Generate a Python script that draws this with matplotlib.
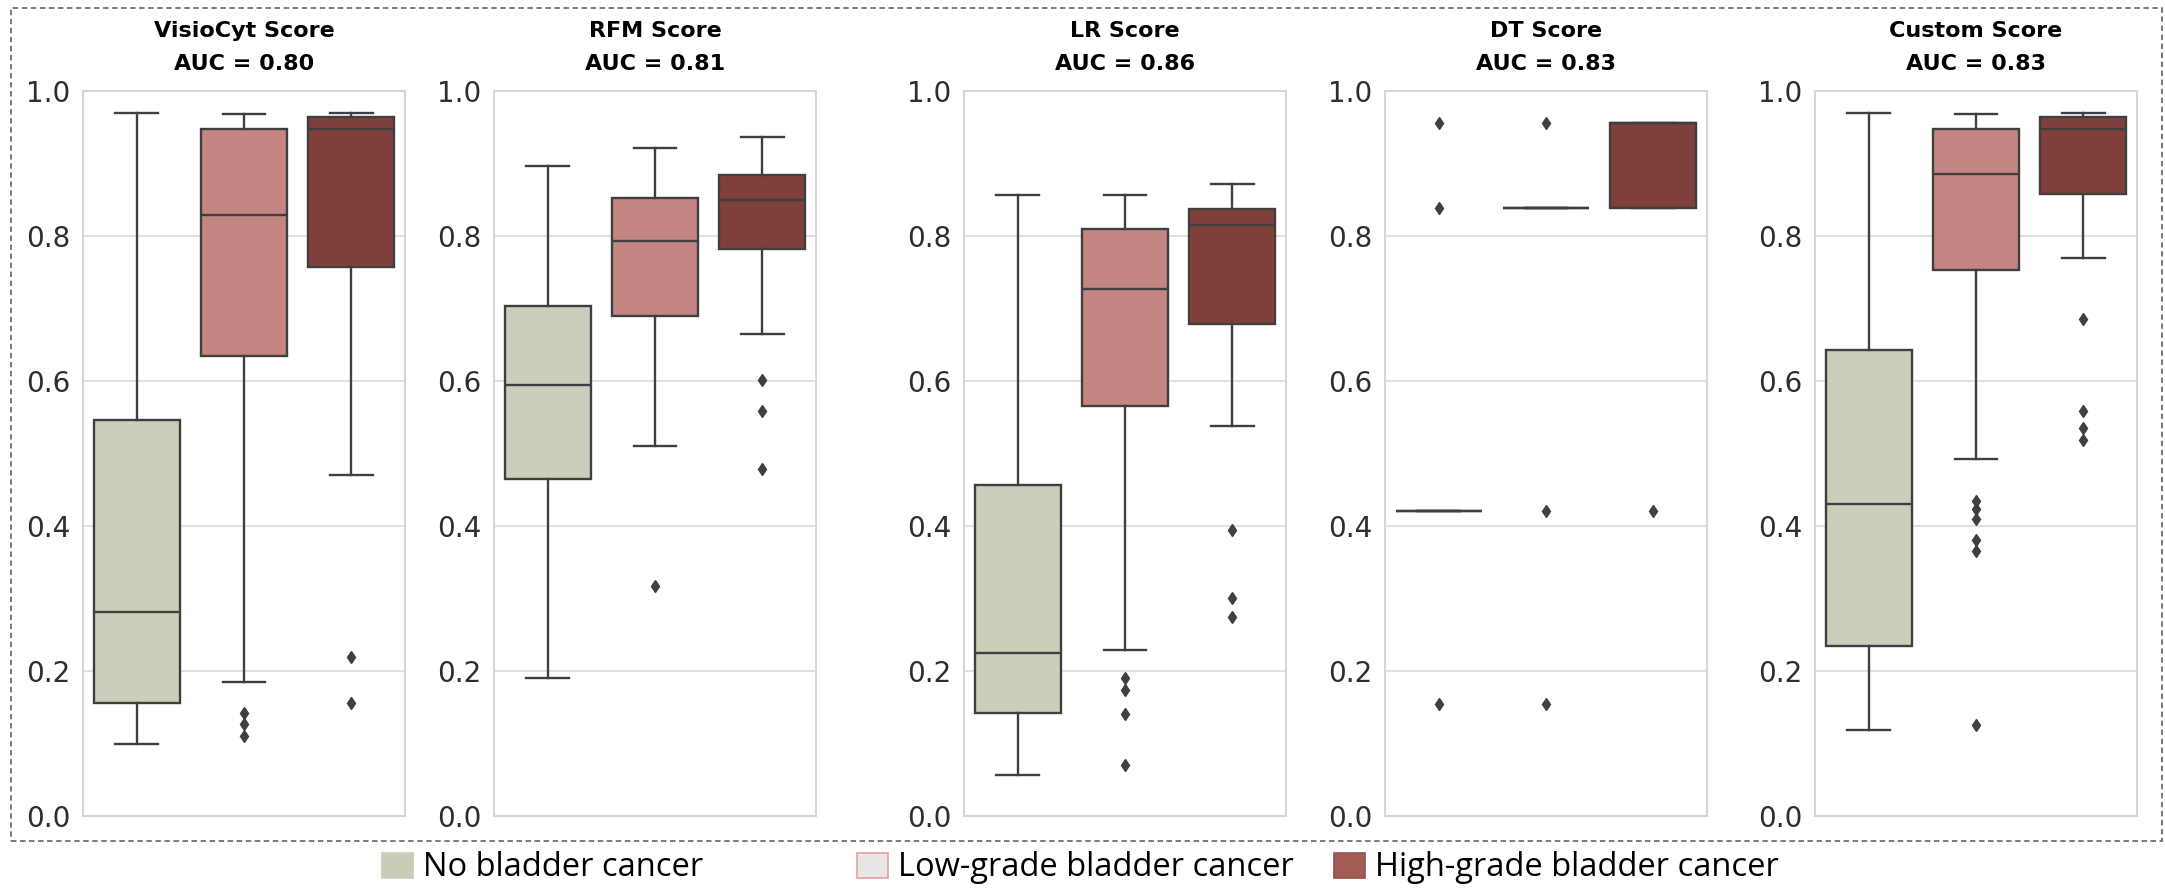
from typing import List
import matplotlib
matplotlib.use('Agg')
import matplotlib.pyplot as plt
from matplotlib import font_manager
from matplotlib.axes import Axes
from matplotlib.figure import Figure
from matplotlib.patches import Patch, Rectangle

# Panels
SCORES = ['VisioCyt Score', 'RFM Score', 'LR Score', 'DT Score', 'Custom Score']
AUCS = [0.80, 0.81, 0.86, 0.83, 0.83]
GROUPS = ['No bladder cancer', 'Low-grade bladder cancer', 'High-grade bladder cancer']

# five-number summaries per group: [whisker low, Q1, median, Q3, whisker high]
visiocyt_box = [[0.099, 0.156, 0.282, 0.546, 0.969],
                [0.185, 0.635, 0.829, 0.948, 0.968],
                [0.471, 0.757, 0.948, 0.964, 0.969]]
visiocyt_fliers = [[], [0.142, 0.127, 0.111], [0.220, 0.156]]

rfm_box = [[0.190, 0.465, 0.594, 0.704, 0.897],
           [0.510, 0.690, 0.793, 0.853, 0.922],
           [0.665, 0.782, 0.849, 0.884, 0.937]]
rfm_fliers = [[], [0.317], [0.602, 0.558, 0.479]]

lr_box = [[0.057, 0.142, 0.225, 0.456, 0.857],
          [0.229, 0.566, 0.727, 0.810, 0.856],
          [0.538, 0.678, 0.815, 0.837, 0.872]]
lr_fliers = [[], [0.190, 0.174, 0.141, 0.071], [0.394, 0.301, 0.275]]

dt_box = [[0.421, 0.421, 0.421, 0.421, 0.421],
          [0.838, 0.838, 0.838, 0.838, 0.838],
          [0.838, 0.838, 0.956, 0.956, 0.956]]
dt_fliers = [[0.956, 0.838, 0.155], [0.956, 0.421, 0.155], [0.421]]

custom_box = [[0.119, 0.234, 0.431, 0.643, 0.969],
              [0.492, 0.753, 0.886, 0.948, 0.968],
              [0.770, 0.858, 0.948, 0.964, 0.969]]
custom_fliers = [[], [0.435, 0.423, 0.410, 0.381, 0.366, 0.126], [0.685, 0.558, 0.535, 0.518]]

ALL_BOXES = [visiocyt_box, rfm_box, lr_box, dt_box, custom_box]
ALL_FLIERS = [visiocyt_fliers, rfm_fliers, lr_fliers, dt_fliers, custom_fliers]

BOX_COLORS = ['#CBCEBB', '#C38682', '#7F403C']
LEGEND_COLORS = ['#C9CCB9', '#E6E6E6', '#A25D57']
LEGEND_EDGES = ['#C9CCB9', '#E3A0A0', '#94504B']
LINE_COLOR = '#3F3F3F'

W, H = 2165, 891
AX_LEFTS = [83, 494, 964, 1385, 1815]
AX_WIDTH = 322
AX_TOP, AX_BOTTOM = 91, 816


def draw_panel(ax: Axes, title: str, auc: float, boxes: List[list], fliers: List[list]) -> None:
    '''한 패널의 박스플롯'''
    stats = []
    for (lo, q1, med, q3, hi), fl in zip(boxes, fliers):
        stats.append({'whislo': lo, 'q1': q1, 'med': med, 'q3': q3, 'whishi': hi, 'fliers': fl})

    art = ax.bxp(stats, positions=[0, 1, 2], widths=0.8, patch_artist=True,
                 boxprops={'edgecolor': LINE_COLOR, 'linewidth': 1.7},
                 whiskerprops={'color': LINE_COLOR, 'linewidth': 1.7},
                 capprops={'color': LINE_COLOR, 'linewidth': 1.7},
                 medianprops={'color': LINE_COLOR, 'linewidth': 1.7},
                 flierprops={'marker': 'd', 'markerfacecolor': LINE_COLOR,
                             'markeredgecolor': LINE_COLOR, 'markersize': 6})
    for patch, color in zip(art['boxes'], BOX_COLORS):
        patch.set_facecolor(color)

    ax.set_xlim(-0.5, 2.5)
    ax.set_ylim(0, 1.0)
    ax.set_yticks([0.0, 0.2, 0.4, 0.6, 0.8, 1.0])
    ax.set_yticklabels(['0.0', '0.2', '0.4', '0.6', '0.8', '1.0'])
    ax.set_xticks([])
    ax.grid(True, axis='y', color='#DCDCDC', linewidth=1.2)
    ax.set_axisbelow(True)
    ax.tick_params(axis='y', length=0, pad=9, labelsize=20, labelcolor='#2E2E2E')
    for spine in ax.spines.values():
        spine.set_color('#D6D6D6')
        spine.set_linewidth(1.5)

    ax.set_title(f'{title}\nAUC = {auc:.2f}', fontsize=16, fontweight='bold',
                 pad=15, linespacing=1.85)


def pick_legend_font() -> tuple:
    names = {f.name for f in font_manager.fontManager.ttflist}
    if 'Liberation Sans Narrow' in names:
        return 'Liberation Sans Narrow', 28
    return 'Open Sans', 23.5


def draw_figure() -> Figure:
    fig = plt.figure(figsize=(W / 100, H / 100), dpi=100)

    for left, title, auc, boxes, fliers in zip(AX_LEFTS, SCORES, AUCS, ALL_BOXES, ALL_FLIERS):
        ax = fig.add_axes([left / W, 1 - AX_BOTTOM / H, AX_WIDTH / W, (AX_BOTTOM - AX_TOP) / H])
        draw_panel(ax, title, auc, boxes, fliers)

    # dashed frame around panels
    fig.patches.append(Rectangle((10.5 / W, 1 - 841 / H), (2162 - 10.5) / W, (841 - 8) / H,
                                 transform=fig.transFigure, fill=False,
                                 edgecolor='#6E6E6E', linewidth=1.3, linestyle=(0, (3, 2))))

    # legend, one entry each to keep the original spacing
    family, size = pick_legend_font()
    legend_x = [382, 857, 1334]
    for x, label, fc, ec in zip(legend_x, GROUPS, LEGEND_COLORS, LEGEND_EDGES):
        handle = Patch(facecolor=fc, edgecolor=ec, linewidth=1.2, label=label)
        fig.legend(handles=[handle], loc='center left', bbox_to_anchor=(x / W, 1 - 868 / H),
                   frameon=False, borderpad=0, borderaxespad=0, handlelength=0.95,
                   handleheight=0.8, handletextpad=0.3,
                   prop={'family': family, 'size': size})
    return fig


def main() -> None:
    fig = draw_figure()
    fig.savefig('out.png', dpi=100)


if __name__ == '__main__':
    main()
